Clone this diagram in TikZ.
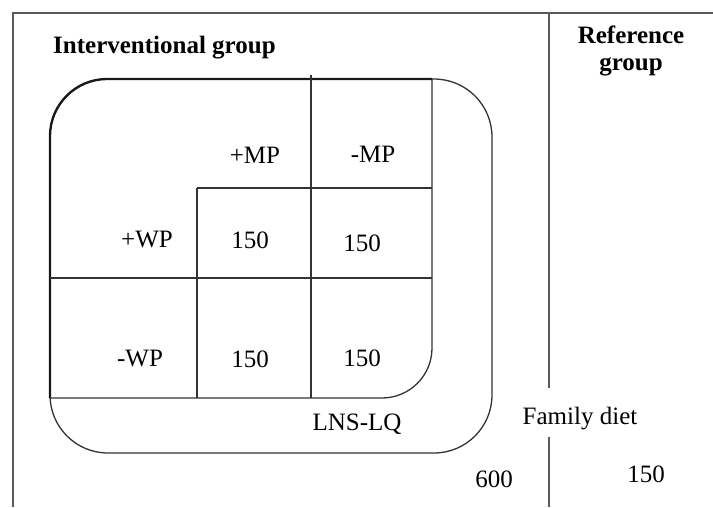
\documentclass[tikz,border=0pt]{standalone}
\usepackage{fontspec}
\setmainfont{Liberation Serif}
\usepackage{tikz}
\usetikzlibrary{positioning}

\begin{document}
\begin{tikzpicture}[x=1pt, y=-1pt, font=\fontsize{25}{29}\selectfont,
  frame/.style={draw=black!65, line width=1.3pt},
  grid line/.style={draw=black!80, line width=1.3pt},
  bold line/.style={draw=black!90, line width=2.3pt},
  txt/.style={inner sep=0pt, anchor=base}]

\useasboundingbox (0,0) rectangle (713,507);

% outer frame, cut by the page
\draw [frame] (13,507) -- (13,13) -- (713,13);

% divider between the two groups
\coordinate (div-top) at (549,13);
\coordinate (div-a) at (549,388);
\coordinate (div-b) at (549,437);
\coordinate (div-bot) at (549,507);
\draw [frame] (div-top) -- (div-a);
\draw [frame] (div-b) -- (div-bot);

% LNS-LQ box
\draw [grid line, rounded corners=58pt] (50,79) rectangle (492,453);

% 2x2 table
\draw [bold line, rounded corners=57pt] (50,398) -- (50,79) -- (432,79);
\draw [grid line, rounded corners=50pt] (432,79) -- (432,398) -- (50,398);
\draw [grid line] (311,75) -- (311,398);
\draw [grid line] (197,188) -- (197,398);
\draw [grid line] (197,188) -- (432,188);
\draw [grid line] (50,278) -- (432,278);

% headings
\node (int-title) [txt, anchor=base west] at (53,53) {\textbf{Interventional group}};
\node (ref-title) [txt, align=center, anchor=base] at (631,70) {\textbf{Reference}\\[-2pt]\textbf{group}};

\node (mp-plus) [txt] at (255,163) {+MP};
\node (mp-minus) [txt] at (373,162) {-MP};
\node (wp-plus) [txt] at (147,247) {+WP};
\node (wp-minus) [txt] at (140,366) {-WP};

\foreach \x/\y [count=\i] in {250/248, 362/251, 250/367, 362/366}
  \node (cell-\i) [txt] at (\x,\y) {150};

\node (lns) [txt] at (357,430) {LNS-LQ};
\node (total) [txt] at (494,487) {600};
\node (diet) [txt] at (580,424) {Family diet};
\node (ref-n) [txt] at (646,482) {150};

\end{tikzpicture}
\end{document}
